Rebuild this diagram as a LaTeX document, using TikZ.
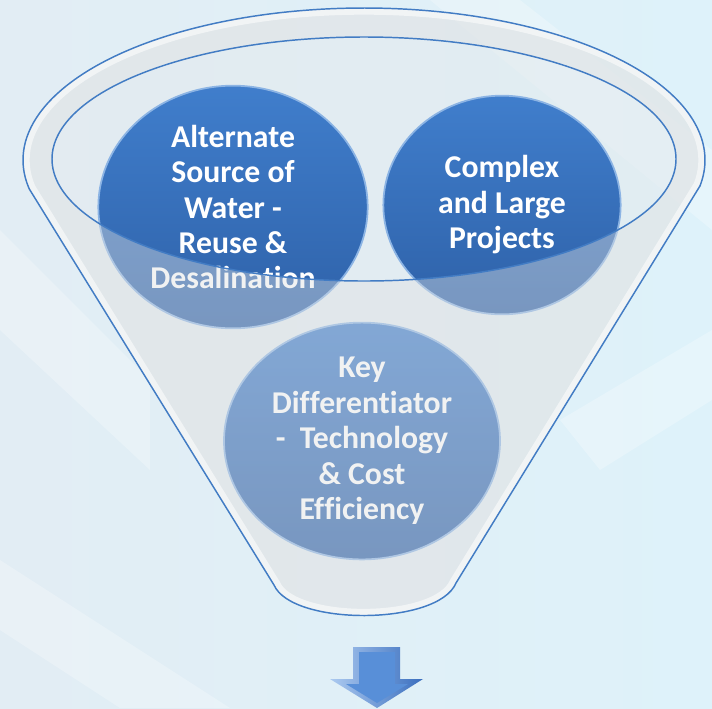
\documentclass[tikz,border=0pt]{standalone}
\usepackage{fontspec}
\setmainfont{Carlito}[Ligatures=NoCommon]
\usetikzlibrary{shapes.geometric}
\definecolor{bgleft}{RGB}{226,237,244}
\definecolor{bgright}{RGB}{222,242,250}
\definecolor{rimblue}{RGB}{66,124,196}
\definecolor{bubbletop}{RGB}{64,126,204}
\definecolor{bubblebot}{RGB}{46,97,168}
\definecolor{bubbleedge}{RGB}{140,180,228}
\definecolor{glass}{RGB}{228,234,238}
\definecolor{frontglass}{RGB}{224,226,226}
\definecolor{arrowlight}{RGB}{172,202,240}
\definecolor{arrowdark}{RGB}{58,110,190}
\definecolor{arrowface}{RGB}{88,143,216}
\newcommand\funneloutline{plot[variable=\t,domain=-9.8:190.9,samples=90,smooth]
  ({364+341*cos(\t)},{160-152*sin(\t)}) -- (274,585)
  .. controls (292,626) and (438,626) .. (456,583) -- cycle}
\begin{document}
\begin{tikzpicture}[x=0.75pt,y=-0.75pt,
    bubble/.style={ellipse,inner sep=0pt,align=center,text=white,
      font=\fontsize{23.8}{26.6}\selectfont\bfseries,
      top color=bubbletop,bottom color=bubblebot,draw=bubbleedge,line width=1.3pt},
    streak/.style={white,opacity=0.25},
    funnelline/.style={draw=rimblue,line width=1.1pt}]
  % background
  \shade[left color=bgleft,right color=bgright] (0,0) rectangle (712,708);
  \fill[streak] (0,230) -- (150,380) -- (150,470) -- (0,330) -- cycle;
  \fill[streak] (520,0) -- (712,150) -- (712,230) -- (430,0) -- cycle;
  \fill[streak] (0,560) -- (230,708) -- (120,708) -- (0,630) -- cycle;
  \fill[streak] (560,420) -- (712,330) -- (712,400) -- (600,470) -- cycle;
  % back of the funnel
  \fill[glass,opacity=0.55] \funneloutline;
  % bubbles
  \node[bubble,minimum width=202pt,minimum height=182pt] (source) at (233,207)
    {Alternate\\Source of\\Water -\\Reuse \&\\Desalination};
  \node[bubble,minimum width=178pt,minimum height=164pt] (projects) at (502,205)
    {Complex\\and Large\\Projects};
  \node[bubble,minimum width=207pt,minimum height=177pt] (differ) at (362,441)
    {Key\\Differentiator\\-\ \ Technology\\\& Cost\\Efficiency};
  % front glass of the funnel
  \fill[frontglass,opacity=0.42,even odd rule] \funneloutline
    (364,159) ellipse [x radius=312,y radius=122];
  \begin{scope}
    \clip \funneloutline;
    \draw[white,opacity=0.55,line width=10pt] \funneloutline;
  \end{scope}
  \draw[funnelline] \funneloutline;
  \draw[funnelline] (364,159) ellipse [x radius=312,y radius=122];
  % arrow
  \shade[left color=arrowlight,right color=arrowdark]
    (353,647) -- (400,647) -- (400,679) -- (423,679) -- (377,708)
    -- (330,679) -- (353,679) -- cycle;
  \fill[arrowface] (359,652) -- (395,652) -- (395,684) -- (408,684) -- (377,703)
    -- (346,684) -- (359,684) -- cycle;
\end{tikzpicture}
\end{document}
